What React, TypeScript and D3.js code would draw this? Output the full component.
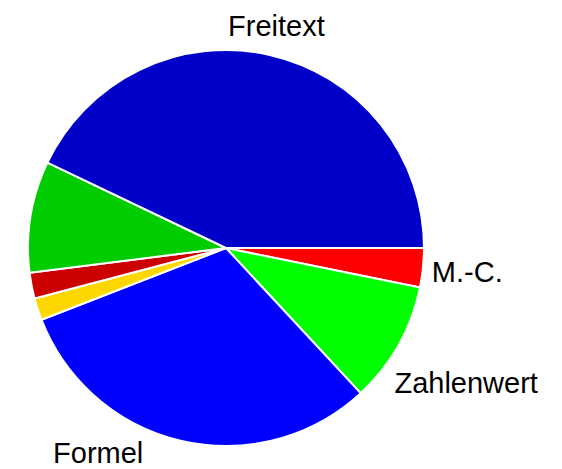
import React, { useEffect, useRef } from 'react';
import * as d3 from 'd3';

// slices in drawing order, clockwise from 3 o'clock
const categories = ['M.-C.', 'Zahlenwert', 'Formel', 'Sonstige 1', 'Sonstige 2', 'Sonstige 3', 'Freitext'];
const values = [3.2, 9.9, 31.0, 1.8, 2.1, 9.1, 42.9];
const colors = ['#ff0000', '#00ff00', '#0000ff', '#ffd700', '#cc0000', '#00cc00', '#0000c8'];
// only these get a text label in the picture
const shownLabels = ['M.-C.', 'Zahlenwert', 'Formel', 'Freitext'];

const W = 562;
const H = 469;

const App = () => {
  const svgRef = useRef<SVGSVGElement | null>(null);

  useEffect(() => {
    const svg = d3.select(svgRef.current);
    svg.selectAll('*').remove();

    const cx = 226;
    const cy = 248;
    const radius = 198;
    const gap = 8;

    const data = categories.map((c, i) => ({ name: c, value: values[i], color: colors[i] }));

    const pie = d3
      .pie<any>()
      .sort(null)
      .value(d => d.value)
      .startAngle(Math.PI / 2)
      .endAngle(Math.PI / 2 + 2 * Math.PI);

    const arc = d3.arc<any>().innerRadius(0).outerRadius(radius);
    const arcs = pie(data);

    const g = svg.append('g').attr('transform', `translate(${cx},${cy})`);

    g.selectAll('path')
      .data(arcs)
      .enter()
      .append('path')
      .attr('d', arc)
      .attr('fill', d => d.data.color)
      .attr('stroke', '#fff')
      .attr('stroke-width', 2)
      .attr('stroke-linejoin', 'round');

    // labels: box pushed outward along the mid angle until it clears the circle,
    // then rotated toward the horizontal if it would leave the canvas
    const place = (theta: number, w: number, h: number) => {
      let d = radius;
      let px = 0;
      let py = 0;
      for (; d < radius + 300; d += 0.5) {
        px = d * Math.cos(theta);
        py = d * Math.sin(theta);
        const nx = Math.max(px - w / 2, Math.min(0, px + w / 2));
        const ny = Math.max(py - h / 2, Math.min(0, py + h / 2));
        if (Math.hypot(nx, ny) >= radius + gap) break;
      }
      return { px, py };
    };

    arcs.forEach(a => {
      if (!shownLabels.includes(a.data.name)) return;
      const t = g
        .append('text')
        .attr('font-family', '"Liberation Sans", Arial, sans-serif')
        .attr('font-size', 29)
        .attr('fill', '#000')
        .text(a.data.name);
      const bb = (t.node() as SVGTextElement).getBBox();
      // d3 angle: 0 at 12 o'clock clockwise -> screen angle from +x
      let theta = (a.startAngle + a.endAngle) / 2 - Math.PI / 2;
      const dir = -Math.sign(Math.sin(theta) * Math.cos(theta)) || 1;
      let pos = place(theta, bb.width, bb.height);
      for (let k = 0; k < 180; k++) {
        const top = cy + pos.py - bb.height / 2;
        const bottom = cy + pos.py + bb.height / 2;
        const left = cx + pos.px - bb.width / 2;
        const right = cx + pos.px + bb.width / 2;
        if (top >= 0 && bottom <= H && left >= 0 && right <= W) break;
        theta += dir * (0.5 * Math.PI / 180);
        pos = place(theta, bb.width, bb.height);
      }
      t.attr('x', pos.px - (bb.x + bb.width / 2)).attr('y', pos.py - (bb.y + bb.height / 2));
    });
  }, []);

  return (
    <div style={{ position: 'absolute', left: 0, top: 0, width: W, height: H, background: '#fff' }}>
      <svg ref={svgRef} width={W} height={H} style={{ display: 'block' }}></svg>
    </div>
  );
};

export default App;
